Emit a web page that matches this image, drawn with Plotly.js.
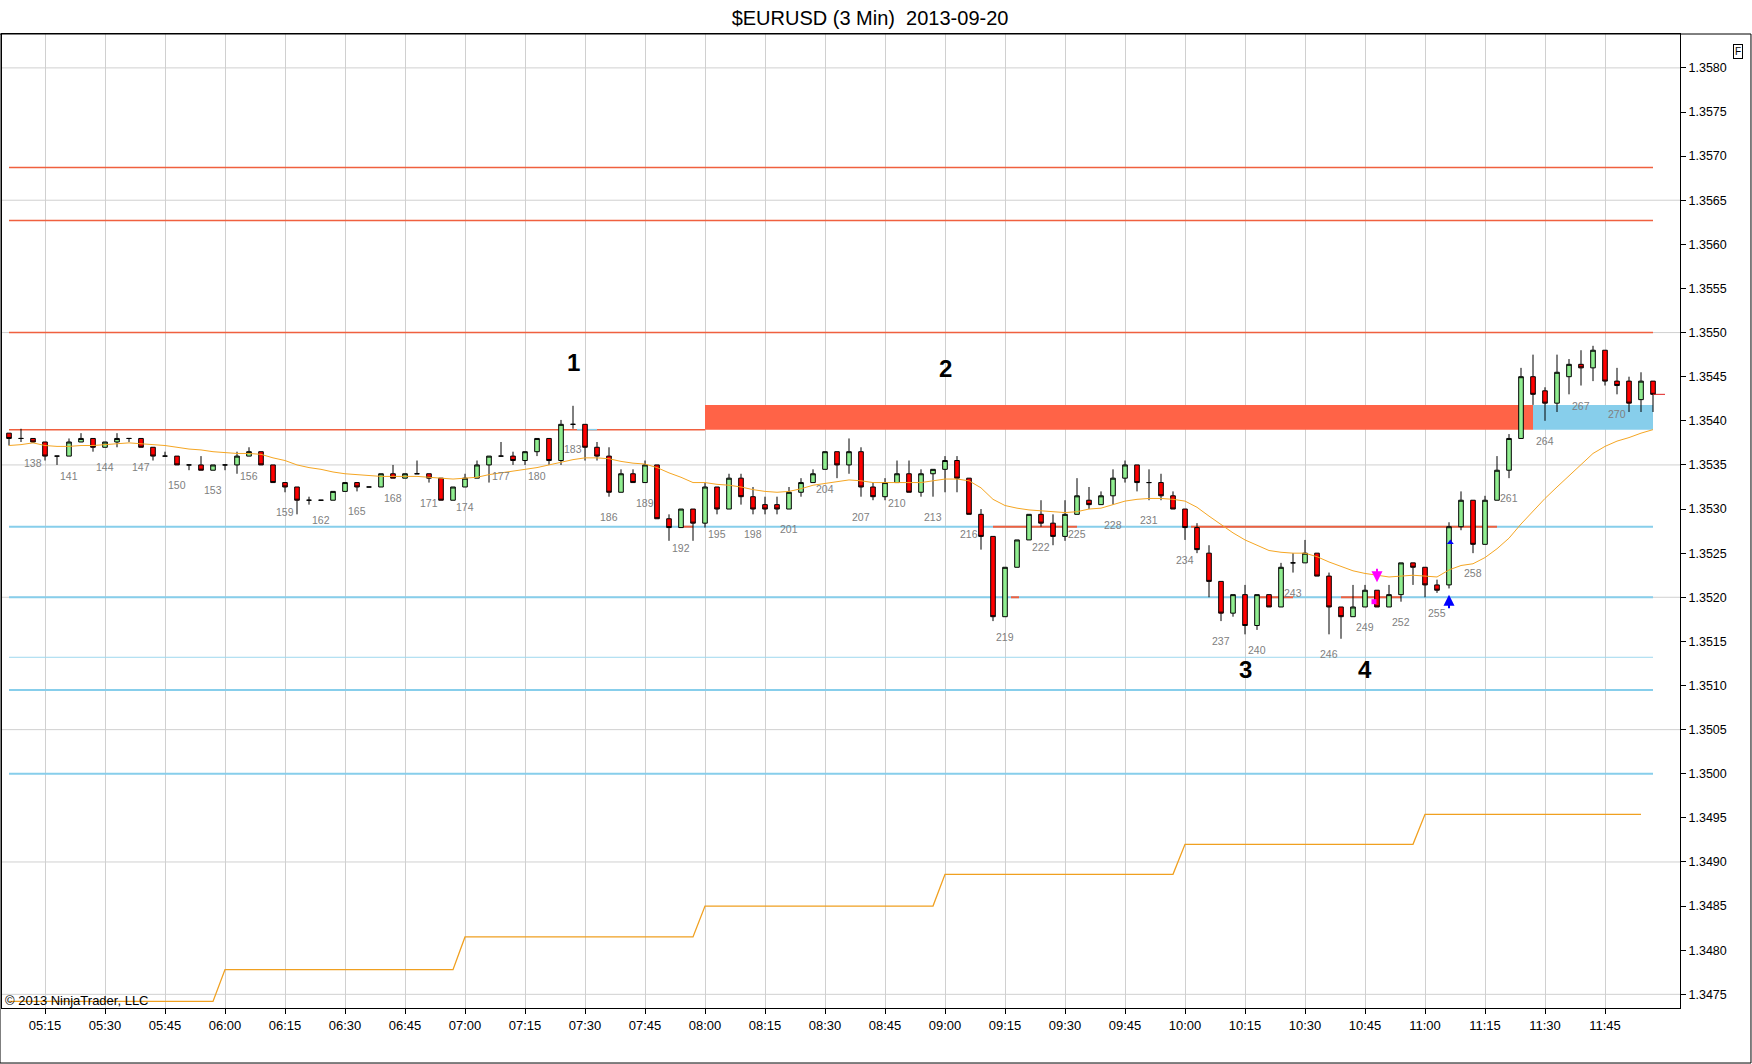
<!DOCTYPE html>
<html>
<head>
<meta charset="utf-8">
<script src="https://cdn.plot.ly/plotly-3.0.1.min.js"></script>
<style>
  html, body { margin: 0; padding: 0; background: #fff; }
  #chart { width: 1752px; height: 1064px; }
</style>
</head>
<body>
<div id="chart"></div>
<script>
// 3 minute bars, bar number 136 = 05:06
var firstBar = 136;

var opens = [
  1.35386, 1.35380, 1.35380, 1.35376, 1.35360, 1.35360, 1.35376, 1.35380, 1.35370, 1.35376,
  1.35380, 1.35380, 1.35370, 1.35360, 1.35360, 1.35350, 1.35350, 1.35344, 1.35350, 1.35350,
  1.35360, 1.35365, 1.35350, 1.35330, 1.35325, 1.35310, 1.35310, 1.35310, 1.35320, 1.35330,
  1.35325, 1.35325, 1.35340, 1.35335, 1.35340, 1.35340, 1.35335, 1.35310, 1.35325, 1.35335,
  1.35350, 1.35360, 1.35360, 1.35355, 1.35365, 1.35380, 1.35355, 1.35396, 1.35396, 1.35370,
  1.35360, 1.35319, 1.35340, 1.35330, 1.35350, 1.35289, 1.35279, 1.35300, 1.35284, 1.35325,
  1.35300, 1.35335, 1.35314, 1.35305, 1.35305, 1.35300, 1.35319, 1.35330, 1.35345, 1.35365,
  1.35350, 1.35365, 1.35325, 1.35314, 1.35330, 1.35340, 1.35319, 1.35340, 1.35345, 1.35355,
  1.35335, 1.35294, 1.35269, 1.35178, 1.35234, 1.35265, 1.35294, 1.35284, 1.35269, 1.35294,
  1.35310, 1.35305, 1.35315, 1.35335, 1.35350, 1.35330, 1.35330, 1.35315, 1.35300, 1.35279,
  1.35250, 1.35218, 1.35182, 1.35203, 1.35168, 1.35203, 1.35189, 1.35239, 1.35239, 1.35250,
  1.35224, 1.35189, 1.35178, 1.35189, 1.35208, 1.35189, 1.35203, 1.35239, 1.35234, 1.35214,
  1.35214, 1.35280, 1.35310, 1.35260, 1.35310, 1.35344, 1.35380, 1.35450, 1.35434, 1.35420,
  1.35450, 1.35464, 1.35460, 1.35480, 1.35445, 1.35445, 1.35424, 1.35445
];
var highs = [
  1.35386, 1.35391, 1.35380, 1.35376, 1.35360, 1.35380, 1.35386, 1.35380, 1.35376, 1.35386,
  1.35380, 1.35380, 1.35370, 1.35365, 1.35360, 1.35350, 1.35360, 1.35350, 1.35350, 1.35365,
  1.35370, 1.35365, 1.35350, 1.35330, 1.35325, 1.35314, 1.35310, 1.35320, 1.35330, 1.35330,
  1.35325, 1.35340, 1.35350, 1.35340, 1.35355, 1.35340, 1.35335, 1.35325, 1.35340, 1.35355,
  1.35360, 1.35376, 1.35365, 1.35365, 1.35380, 1.35380, 1.35401, 1.35417, 1.35396, 1.35376,
  1.35370, 1.35345, 1.35345, 1.35355, 1.35350, 1.35294, 1.35300, 1.35300, 1.35330, 1.35325,
  1.35340, 1.35340, 1.35325, 1.35314, 1.35314, 1.35325, 1.35335, 1.35345, 1.35365, 1.35365,
  1.35380, 1.35370, 1.35330, 1.35335, 1.35355, 1.35355, 1.35345, 1.35345, 1.35360, 1.35360,
  1.35335, 1.35300, 1.35269, 1.35234, 1.35265, 1.35294, 1.35310, 1.35294, 1.35310, 1.35335,
  1.35325, 1.35320, 1.35345, 1.35355, 1.35350, 1.35345, 1.35340, 1.35320, 1.35300, 1.35284,
  1.35259, 1.35218, 1.35203, 1.35214, 1.35203, 1.35203, 1.35239, 1.35250, 1.35265, 1.35250,
  1.35228, 1.35189, 1.35214, 1.35214, 1.35208, 1.35214, 1.35239, 1.35239, 1.35234, 1.35220,
  1.35285, 1.35320, 1.35310, 1.35315, 1.35360, 1.35385, 1.35460, 1.35475, 1.35438, 1.35475,
  1.35470, 1.35480, 1.35485, 1.35480, 1.35460, 1.35450, 1.35455, 1.35445
];
var lows = [
  1.35372, 1.35376, 1.35375, 1.35355, 1.35350, 1.35360, 1.35376, 1.35365, 1.35370, 1.35370,
  1.35376, 1.35370, 1.35355, 1.35360, 1.35350, 1.35344, 1.35344, 1.35344, 1.35344, 1.35340,
  1.35360, 1.35350, 1.35330, 1.35319, 1.35294, 1.35305, 1.35310, 1.35310, 1.35320, 1.35320,
  1.35325, 1.35325, 1.35335, 1.35335, 1.35340, 1.35330, 1.35310, 1.35310, 1.35325, 1.35335,
  1.35330, 1.35360, 1.35350, 1.35350, 1.35360, 1.35350, 1.35350, 1.35391, 1.35355, 1.35355,
  1.35314, 1.35319, 1.35330, 1.35330, 1.35289, 1.35264, 1.35279, 1.35264, 1.35279, 1.35294,
  1.35300, 1.35305, 1.35294, 1.35294, 1.35294, 1.35300, 1.35314, 1.35330, 1.35345, 1.35335,
  1.35340, 1.35314, 1.35310, 1.35310, 1.35330, 1.35319, 1.35314, 1.35314, 1.35319, 1.35319,
  1.35294, 1.35254, 1.35173, 1.35178, 1.35234, 1.35265, 1.35280, 1.35259, 1.35264, 1.35294,
  1.35300, 1.35305, 1.35305, 1.35330, 1.35320, 1.35310, 1.35310, 1.35300, 1.35265, 1.35250,
  1.35200, 1.35173, 1.35178, 1.35158, 1.35163, 1.35189, 1.35189, 1.35228, 1.35239, 1.35224,
  1.35158, 1.35153, 1.35178, 1.35189, 1.35189, 1.35189, 1.35195, 1.35214, 1.35200, 1.35205,
  1.35210, 1.35276, 1.35250, 1.35260, 1.35310, 1.35335, 1.35380, 1.35418, 1.35400, 1.35410,
  1.35430, 1.35440, 1.35445, 1.35440, 1.35430, 1.35410, 1.35410, 1.35410
];
var closes = [
  1.35380, 1.35380, 1.35376, 1.35360, 1.35360, 1.35376, 1.35380, 1.35370, 1.35376, 1.35380,
  1.35380, 1.35370, 1.35360, 1.35360, 1.35350, 1.35350, 1.35344, 1.35350, 1.35350, 1.35360,
  1.35365, 1.35350, 1.35330, 1.35325, 1.35310, 1.35310, 1.35310, 1.35320, 1.35330, 1.35325,
  1.35325, 1.35340, 1.35335, 1.35340, 1.35340, 1.35335, 1.35310, 1.35325, 1.35335, 1.35350,
  1.35360, 1.35360, 1.35355, 1.35365, 1.35380, 1.35355, 1.35396, 1.35396, 1.35370, 1.35360,
  1.35319, 1.35340, 1.35330, 1.35350, 1.35289, 1.35279, 1.35300, 1.35284, 1.35325, 1.35300,
  1.35335, 1.35314, 1.35300, 1.35300, 1.35300, 1.35319, 1.35330, 1.35340, 1.35365, 1.35350,
  1.35365, 1.35325, 1.35314, 1.35330, 1.35340, 1.35319, 1.35340, 1.35345, 1.35355, 1.35335,
  1.35294, 1.35269, 1.35178, 1.35234, 1.35265, 1.35294, 1.35284, 1.35269, 1.35294, 1.35315,
  1.35305, 1.35315, 1.35335, 1.35350, 1.35330, 1.35330, 1.35315, 1.35300, 1.35279, 1.35254,
  1.35218, 1.35182, 1.35203, 1.35168, 1.35203, 1.35189, 1.35234, 1.35239, 1.35250, 1.35224,
  1.35189, 1.35178, 1.35189, 1.35208, 1.35189, 1.35203, 1.35239, 1.35234, 1.35214, 1.35208,
  1.35280, 1.35310, 1.35260, 1.35310, 1.35344, 1.35380, 1.35450, 1.35430, 1.35420, 1.35455,
  1.35464, 1.35460, 1.35480, 1.35445, 1.35440, 1.35420, 1.35445, 1.35430
];
// orange moving average
var emaValues = [
  1.35372, 1.35373, 1.35375, 1.35372, 1.35371, 1.35371, 1.35372, 1.35372, 1.35373, 1.35374,
  1.35375, 1.35374, 1.35373, 1.35372, 1.35370, 1.35368, 1.35367, 1.35365, 1.35364, 1.35363,
  1.35363, 1.35362, 1.35358, 1.35355, 1.35350, 1.35347, 1.35345, 1.35342, 1.35340, 1.35339,
  1.35338, 1.35337, 1.35337, 1.35337, 1.35337, 1.35336, 1.35335, 1.35334, 1.35335, 1.35336,
  1.35339, 1.35341, 1.35343, 1.35345, 1.35347, 1.35350, 1.35353, 1.35356, 1.35358, 1.35358,
  1.35357, 1.35354, 1.35352, 1.35351, 1.35347, 1.35341, 1.35336, 1.35330, 1.35330, 1.35328,
  1.35327, 1.35325, 1.35322, 1.35320, 1.35319, 1.35320, 1.35323, 1.35327, 1.35329, 1.35331,
  1.35333, 1.35332, 1.35330, 1.35330, 1.35330, 1.35330, 1.35330, 1.35332, 1.35334, 1.35334,
  1.35332, 1.35324, 1.35311, 1.35304, 1.35301, 1.35299, 1.35298, 1.35297, 1.35296, 1.35297,
  1.35300, 1.35301, 1.35305, 1.35309, 1.35311, 1.35312, 1.35312, 1.35311, 1.35309, 1.35302,
  1.35292, 1.35282, 1.35273, 1.35265, 1.35259, 1.35253, 1.35251, 1.35250, 1.35250, 1.35246,
  1.35240, 1.35235, 1.35230, 1.35227, 1.35225, 1.35223, 1.35224, 1.35225, 1.35224, 1.35223,
  1.35231, 1.35236, 1.35238, 1.35245, 1.35255, 1.35267, 1.35283, 1.35298, 1.35312, 1.35325,
  1.35338, 1.35350, 1.35363, 1.35371, 1.35377, 1.35381, 1.35386, 1.35390
];
// orange step line, one level per hour from 05:00 to 11:00
var hourLevels = [1.34742, 1.34778, 1.34815, 1.34850, 1.34886, 1.34920, 1.34954];

var barLabels = [138, 141, 144, 147, 150, 153, 156, 159, 162, 165, 168, 171, 174, 177, 180,
  183, 186, 189, 192, 195, 198, 201, 204, 207, 210, 213, 216, 219, 222, 225, 228, 231, 234,
  237, 240, 243, 246, 249, 252, 255, 258, 261, 264, 267, 270];

var timeTicks = ['05:15', '05:30', '05:45', '06:00', '06:15', '06:30', '06:45', '07:00', '07:15',
  '07:30', '07:45', '08:00', '08:15', '08:30', '08:45', '09:00', '09:15', '09:30', '09:45',
  '10:00', '10:15', '10:30', '10:45', '11:00', '11:15', '11:30', '11:45'];

var gridLevels = [1.3475, 1.3490, 1.3505, 1.3520, 1.3535, 1.3550, 1.3565, 1.3580];
var redLevels = [1.35687, 1.35627, 1.35500];
var blueLevels = [1.35280, 1.35200, 1.35095, 1.35000];
var thinBlueLevel = 1.35132;
var resistLevel = 1.35390;
var zoneLow = 1.35390, zoneHigh = 1.35418;

// short red pieces drawn over the blue lines: [price, from, to]
var redPieces = [
  [1.35280, '07:54:30', '07:57:00'],
  [1.35280, '09:12:00', '09:33:00'],
  [1.35280, '10:01:30', '11:18:00'],
  [1.35200, '09:16:30', '09:18:30'],
  [1.35200, '10:18:00', '10:27:00'],
  [1.35200, '10:39:00', '10:54:00']
];

var waves = [
  {text: '1', t: '07:27', p: 1.35466},
  {text: '2', t: '09:00', p: 1.35459},
  {text: '3', t: '10:15', p: 1.35118},
  {text: '4', t: '10:45', p: 1.35118}
];

function pad(n) { return (n < 10 ? '0' : '') + n; }
function barTime(n) {
  var m = 306 + (n - firstBar) * 3;
  return '2013-09-20 ' + pad(Math.floor(m / 60)) + ':' + pad(m % 60);
}
function at(t) { return '2013-09-20 ' + t; }

var times = [], stepX = [], stepY = [];
for (let i = 0; i < opens.length; i++) {
  times.push(barTime(firstBar + i));
  if (i < opens.length - 1) {
    let hour = Math.floor((306 + i * 3) / 60);
    stepX.push(barTime(firstBar + i));
    stepY.push(hourLevels[hour - 5]);
  }
}
var firstTime = times[0], lastTime = times[times.length - 1];

let candles = {
  type: 'candlestick',
  x: times, open: opens, high: highs, low: lows, close: closes,
  increasing: {fillcolor: '#90ee90', line: {color: '#000', width: 1}},
  decreasing: {fillcolor: '#ff0000', line: {color: '#000', width: 1}},
  whiskerwidth: 0,
  hoverinfo: 'skip',
  showlegend: false
};
let ema = {
  type: 'scatter', mode: 'lines', x: times, y: emaValues,
  line: {color: '#f5a623', width: 1}, hoverinfo: 'skip', showlegend: false
};
let steps = {
  type: 'scatter', mode: 'lines', x: stepX, y: stepY,
  line: {color: '#f0a020', width: 1.3}, hoverinfo: 'skip', showlegend: false
};
let pinkDot = {
  type: 'scatter', mode: 'markers', x: [at('10:47:15')], y: [1.35195],
  marker: {symbol: 'square', size: 5, color: '#ff00ff'}, hoverinfo: 'skip', showlegend: false
};
let blueMark = {
  type: 'scatter', mode: 'markers', x: [at('11:06:20')], y: [1.35262],
  marker: {symbol: 'triangle-up', size: 6, color: '#0000ff'}, hoverinfo: 'skip', showlegend: false
};

let shapes = [];
gridLevels.forEach(function (p) {
  shapes.push({type: 'line', xref: 'paper', x0: 0, x1: 1, y0: p, y1: p,
    line: {color: '#d0d0d0', width: 1}, layer: 'below'});
});
redLevels.forEach(function (p) {
  shapes.push({type: 'line', x0: firstTime, x1: lastTime, y0: p, y1: p,
    line: {color: '#f0603f', width: 1.5}, layer: 'between'});
});
blueLevels.forEach(function (p) {
  shapes.push({type: 'line', x0: firstTime, x1: lastTime, y0: p, y1: p,
    line: {color: '#87ceeb', width: 2}, layer: 'between'});
});
shapes.push({type: 'line', x0: firstTime, x1: lastTime, y0: thinBlueLevel, y1: thinBlueLevel,
  line: {color: '#9fd8ef', width: 1}, layer: 'between'});
shapes.push({type: 'line', x0: firstTime, x1: at('08:00'), y0: resistLevel, y1: resistLevel,
  line: {color: '#f0603f', width: 1.5}, layer: 'between'});
shapes.push({type: 'line', x0: at('07:28'), x1: at('07:33'), y0: resistLevel, y1: resistLevel,
  line: {color: '#87ceeb', width: 1.5}, layer: 'between'});
redPieces.forEach(function (r) {
  shapes.push({type: 'line', x0: at(r[1]), x1: at(r[2]), y0: r[0], y1: r[0],
    line: {color: '#f0603f', width: 2}, layer: 'between'});
});
shapes.push({type: 'rect', x0: at('08:00'), x1: at('11:27'), y0: zoneLow, y1: zoneHigh,
  fillcolor: '#ff6347', line: {width: 0}, layer: 'between'});
shapes.push({type: 'rect', x0: at('11:27'), x1: lastTime, y0: zoneLow, y1: zoneHigh,
  fillcolor: '#87ceeb', line: {width: 0}, layer: 'between'});
// last price marker
shapes.push({type: 'line', x0: lastTime, x1: at('12:00'), y0: closes[closes.length - 1], y1: closes[closes.length - 1],
  line: {color: '#e02020', width: 1}, layer: 'above'});
// outer frame
shapes.push({type: 'rect', xref: 'paper', yref: 'paper', x0: -0.0012, x1: 1.0423, y0: -0.0565, y1: 1,
  line: {color: '#000', width: 1}, fillcolor: 'rgba(0,0,0,0)', layer: 'above'});

let annotations = [];
barLabels.forEach(function (n) {
  annotations.push({x: barTime(n), y: lows[n - firstBar], yshift: -20, text: String(n),
    showarrow: false, font: {size: 10.5, color: '#808080'}});
});
waves.forEach(function (w) {
  annotations.push({x: at(w.t), y: w.p, text: '<b>' + w.text + '</b>', showarrow: false,
    font: {size: 24, color: '#000'}});
});
annotations.push({x: barTime(250), y: 1.35217, ax: 0, ay: -15, text: '', showarrow: true,
  arrowhead: 2, arrowsize: 1.1, arrowwidth: 2, arrowcolor: '#ff00ff'});
annotations.push({x: barTime(256), y: 1.35203, ax: 0, ay: 15, text: '', showarrow: true,
  arrowhead: 2, arrowsize: 1.1, arrowwidth: 2, arrowcolor: '#0000ff'});
annotations.push({xref: 'paper', yref: 'paper', x: 0.0005, y: 0.0082, xanchor: 'left', yanchor: 'middle',
  text: '\u00a9 2013 NinjaTrader, LLC', showarrow: false, font: {size: 13, color: '#000'}});
annotations.push({xref: 'paper', yref: 'paper', x: 1.0375, y: 0.9897, text: 'F', showarrow: false,
  font: {size: 10, color: '#000'}, bordercolor: '#000', borderwidth: 1, borderpad: 1});

let layout = {
  width: 1752, height: 1064,
  margin: {l: 2, r: 72, t: 34, b: 56},
  paper_bgcolor: '#fff', plot_bgcolor: '#fff',
  font: {family: '"Liberation Sans", Arial, sans-serif', size: 12, color: '#000'},
  title: {text: '$EURUSD (3 Min)\u00a0 2013-09-20', font: {size: 20}, x: 0.4966, xanchor: 'center',
    y: 0.983, yanchor: 'middle'},
  showlegend: false,
  hovermode: false,
  boxgap: 0.45,
  xaxis: {
    type: 'date', range: [at('05:04:15'), at('12:03:45')],
    tickmode: 'array', tickvals: timeTicks.map(at), ticktext: timeTicks,
    showgrid: true, gridcolor: '#d0d0d0', gridwidth: 1,
    ticks: 'outside', ticklen: 5, tickcolor: '#000',
    showline: true, linecolor: '#000', linewidth: 1, mirror: true,
    rangeslider: {visible: false}, zeroline: false,
    tickfont: {size: 13}
  },
  yaxis: {
    side: 'right', range: [1.347345, 1.358384],
    dtick: 0.0005, tick0: 1.3475, tickformat: '.4f',
    showgrid: false, zeroline: false,
    ticks: 'outside', ticklen: 5, tickcolor: '#000',
    showline: true, linecolor: '#000', linewidth: 1, mirror: true,
    tickfont: {size: 12.5}
  },
  shapes: shapes,
  annotations: annotations
};

Plotly.newPlot('chart', [steps, ema, candles, pinkDot, blueMark], layout,
  {displayModeBar: false, staticPlot: true});
</script>
</body>
</html>
